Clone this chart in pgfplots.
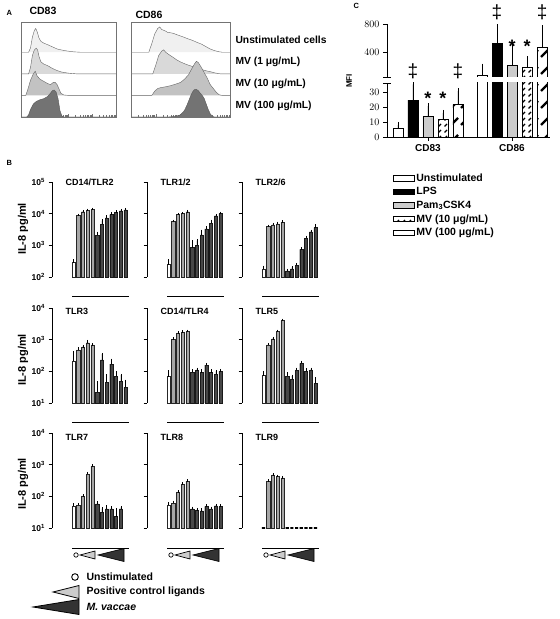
\documentclass[border=0pt]{standalone}
\usepackage{pgfplots}
\pgfplotsset{compat=1.18}
\usepackage{fontspec}
\setmainfont{Liberation Sans}
\usetikzlibrary{patterns}
\pgfdeclarepatternformonly{mvten}{\pgfqpoint{-1pt}{-1pt}}{\pgfqpoint{7pt}{7pt}}{\pgfqpoint{6pt}{6pt}}{%
 \pgfsetlinewidth{1.1pt}\pgfpathmoveto{\pgfqpoint{0.5pt}{0.5pt}}\pgfpathlineto{\pgfqpoint{3pt}{3pt}}\pgfusepath{stroke}}
\pgfdeclarepatternformonly{mvhun}{\pgfqpoint{-1pt}{-1pt}}{\pgfqpoint{11pt}{19pt}}{\pgfqpoint{10pt}{17pt}}{%
 \pgfsetlinewidth{2.2pt}\pgfpathmoveto{\pgfqpoint{1pt}{1pt}}\pgfpathlineto{\pgfqpoint{8pt}{8pt}}\pgfusepath{stroke}}
\newcommand{\fs}[1]{\bfseries\fontsize{#1}{#1}\selectfont}
\newcommand{\dd}{\fontsize{19}{19}\selectfont}
\pgfplotsset{
  bpanel/.style={scale only axis, anchor=south west, width=75.9pt, height=95pt,
    xmin=-3.545, xmax=12.5, axis x line=none, axis y line*=left, yminorticks=false, tick align=outside,
    major tick length=3.5pt, axis line style={line width=0.8pt}, every tick/.style={line width=0.8pt, black},
    ybar, bar width=3.2pt, clip=false, yticklabel style={font=\fs{8.5}}},
  rowone/.style={ymin=100, ymax=100000, ytick={100,1000,10000,100000}},
  rowtwo/.style={ymin=10, ymax=10000, ytick={10,100,1000,10000}},
  labone/.style={yticklabels={10\textsuperscript{2},10\textsuperscript{3},10\textsuperscript{4},10\textsuperscript{5}}},
  labtwo/.style={yticklabels={10\textsuperscript{1},10\textsuperscript{2},10\textsuperscript{3},10\textsuperscript{4}}},
  nolabels/.style={yticklabels={}},
  ebars/.style={error bars/y dir=plus, error bars/y explicit, error bars/error bar style={line width=0.45pt, black},
    error bars/error mark options={line width=0.45pt, mark size=1.3pt, black}},
  wbar/.style={fill=white, draw=black!85, line width=0.45pt, bar shift=0pt, ebars},
  lbar/.style={fill=black!35, draw=black!85, line width=0.45pt, bar shift=0pt, ebars},
  dbar/.style={fill=black!72, draw=black!90, line width=0.45pt, bar shift=0pt, ebars},
  cbar/.style={draw=black, line width=0.7pt, bar shift=0pt, error bars/y dir=plus, error bars/y explicit,
    error bars/error bar style={line width=0.7pt, black}, error bars/error mark options={line width=0.7pt, mark size=3pt, black},
    legend image code/.code={\draw[##1] (0pt,-2.6pt) rectangle (21pt,2.6pt);}},
  cpanel/.style={scale only axis, anchor=south west, width=163pt, xmin=-0.73, xmax=10.13, ybar, bar width=10pt,
    clip mode=individual, tick align=outside, major tick length=4pt, axis line style={line width=0.9pt},
    every tick/.style={line width=0.9pt, black}, ticklabel style={font=\fs{10}}},
  hpanel/.style={scale only axis, anchor=south west, height=95pt, xmin=0, xmax=100, ymin=0, ymax=4.4,
    ytick=\empty, xtick={25,50,75}, xticklabels={}, xtick pos=left, tick align=inside,
    minor xtick={7.5,11.9,15.1,17.5,19.5,21.1,22.6,23.9,32.5,36.9,40.1,42.5,44.5,46.1,47.6,48.9,57.5,61.9,65.1,67.5,69.5,71.1,72.6,73.9,82.5,86.9,90.1,92.5,94.5,96.1,97.6,98.9},
    major tick length=2.5pt, minor tick length=1.5pt, axis line style={black!55, line width=0.5pt},
    every tick/.style={black!55, line width=0.4pt}},
  hone/.style={fill=black!6, draw=black!60, line width=0.4pt},
  htwo/.style={fill=black!15, draw=black!60, line width=0.4pt},
  hthree/.style={fill=black!24, draw=black!60, line width=0.4pt},
  hfour/.style={fill=black!55, draw=black!65, line width=0.4pt},
}
\begin{document}
\begin{tikzpicture}[x=1pt,y=1pt]
\useasboundingbox (0,0) rectangle (560,619);
% ---------------- Panel A ----------------
\node[anchor=west, font=\fs{7.5}] at (3,606) {A};
\node[anchor=west, font=\fs{10.5}] at (26,608) {CD83};
\node[anchor=west, font=\fs{10.5}] at (132,604) {CD86};
\begin{axis}[hpanel, at={(21pt,502pt)}, width=95pt]
\addplot[hone] coordinates {(0,3)(8,3)(10,3.2)(12,3.7)(14,4.0)(15.5,4.1)(17,3.95)(19,3.65)(21,3.5)(24,3.42)(28,3.35)(33,3.25)(38,3.15)(43,3.1)(48,3.06)(55,3.02)(62,3)(100,3)};
\addplot[htwo] coordinates {(0,2)(8,2)(10,2.3)(12,2.85)(14,3.1)(16,3.19)(17.5,3.1)(19,2.8)(21,2.55)(24,2.45)(28,2.38)(33,2.25)(38,2.15)(43,2.08)(50,2.03)(58,2)(100,2)};
\addplot[hthree] coordinates {(0,1)(5,1)(7,1.25)(10,1.7)(13,2.0)(15,2.12)(17,1.9)(20,1.75)(24,1.65)(28,1.55)(31,1.5)(34,1.6)(36,1.6)(38,1.5)(40,1.3)(42,1.1)(45,1.02)(50,1)(100,1)};
\addplot[hfour] coordinates {(0,0)(6,0)(8,0.1)(10,0.35)(13,0.6)(16,0.72)(20,0.8)(24,0.85)(28,0.95)(31,1.1)(33,1.22)(35,1.25)(37,1.15)(39,0.85)(41,0.3)(43,0.05)(45,0)(100,0)};
\end{axis}
\begin{axis}[hpanel, at={(131pt,502pt)}, width=99pt]
\addplot[hone] coordinates {(0,3)(18,3)(21,3.4)(24,3.85)(27,4.1)(29,4.17)(31,4.05)(34,4.0)(37,3.92)(40,3.9)(43,3.87)(47,3.8)(52,3.72)(57,3.63)(62,3.55)(67,3.45)(71,3.38)(76,3.25)(80,3.15)(84,3.08)(88,3.03)(92,3)(100,3)};
\addplot[htwo] coordinates {(0,2)(22,2)(25,2.4)(28,2.85)(31,3.05)(33,3.11)(35,3.0)(38,2.9)(42,2.78)(46,2.65)(50,2.55)(55,2.45)(60,2.37)(65,2.3)(70,2.22)(75,2.15)(80,2.1)(85,2.04)(90,2)(100,2)};
\addplot[hthree] coordinates {(0,1)(21,1)(24,1.2)(27,1.32)(30,1.36)(35,1.4)(40,1.45)(45,1.52)(50,1.6)(54,1.75)(58,1.95)(61,2.2)(64,2.45)(66,2.58)(68,2.52)(71,2.3)(74,2.05)(77,1.8)(80,1.5)(83,1.33)(86,1.15)(89,1.03)(92,1)(100,1)};
\addplot[hfour] coordinates {(0,0)(38,0)(45,0.03)(50,0.1)(54,0.3)(57,0.6)(60,0.95)(62,1.15)(64,1.27)(66,1.28)(68,1.22)(70,1.1)(72,1.0)(74,0.85)(76,0.6)(78,0.35)(80,0.15)(82,0.04)(84,0)(100,0)};
\end{axis}
\node[anchor=west, font=\fs{10.3}] at (232,579) {Unstimulated cells};
\node[anchor=west, font=\fs{10.3}] at (232,557) {MV (1 μg/mL)};
\node[anchor=west, font=\fs{10.3}] at (232,535) {MV (10 μg/mL)};
\node[anchor=west, font=\fs{10.3}] at (232,513) {MV (100 μg/mL)};
% ---------------- Panel C ----------------
\node[anchor=west, font=\fs{7.5}] at (350,613) {C};
\node[rotate=90, font=\fs{8}] at (349,538) {MFI};
\begin{axis}[cpanel, at={(387pt,482pt)}, height=54pt, ymin=0, ymax=36, axis y line*=left, axis x line*=bottom,
  xtick={2,7.6}, xticklabels={CD83,CD86}, ytick={0,10,20,30},
  legend style={at={(0.02,-0.62)}, anchor=north west, draw=none, fill=none, font=\fs{10.5}, row sep=2.2pt,
    nodes={inner sep=1.2pt}}, legend cell align=left]
\addplot[cbar, fill=white] coordinates {(0,6) +- (0,2) (5.6,75) +- (0,119)};
\addplot[cbar, fill=black] coordinates {(1,24.5) +- (0,10.5) (6.6,529) +- (0,247)};
\addplot[cbar, fill=black!20] coordinates {(2,13.5) +- (0,7) (7.6,214) +- (0,290)};
\addplot[cbar, fill=white, postaction={pattern=mvten}] coordinates {(3,11.5) +- (0,4.5) (8.6,180) +- (0,124)};
\addplot[cbar, fill=white, postaction={pattern=mvhun}] coordinates {(4,21.5) +- (0,9) (9.6,466) +- (0,277)};
\legend{Unstimulated, LPS, Pam\textsubscript{3}CSK4, MV (10 μg/mL), MV (100 μg/mL)}
\draw[line width=0.9pt] (rel axis cs:0,1) ++(-4pt,0pt) -- ++(8pt,0pt);
\node[font=\dd] at (axis cs:1,44) {‡};
\node[font=\dd] at (axis cs:4,44) {‡};
\node[font=\fs{18}] at (axis cs:2,26) {*};
\node[font=\fs{18}] at (axis cs:3,26) {*};
\end{axis}
\begin{axis}[cpanel, at={(387pt,542pt)}, height=52.7pt, ymin=47, ymax=800, axis y line*=left, axis x line=none,
  ytick={400,800}]
\addplot[cbar, fill=white] coordinates {(5.6,75) +- (0,119)};
\addplot[cbar, fill=black] coordinates {(6.6,529) +- (0,247)};
\addplot[cbar, fill=black!20] coordinates {(7.6,214) +- (0,290)};
\addplot[cbar, fill=white, postaction={pattern=mvten}] coordinates {(8.6,180) +- (0,124)};
\addplot[cbar, fill=white, postaction={pattern=mvhun}] coordinates {(9.6,466) +- (0,277)};
\draw[line width=0.9pt] (rel axis cs:0,0) ++(-4pt,0pt) -- ++(8pt,0pt);
\node[font=\dd] at (axis cs:6.6,975) {‡};
\node[font=\dd] at (axis cs:9.6,975) {‡};
\node[font=\fs{18}] at (axis cs:7.6,480) {*};
\node[font=\fs{18}] at (axis cs:8.6,480) {*};
\end{axis}
% ---------------- Panel B ----------------
\node[anchor=west, font=\fs{7.5}] at (3,456) {B};
% row 1
\begin{axis}[ymode=log, log origin=infty, bpanel, rowone, labone, at={(52pt,342pt)}]
\addplot[wbar] coordinates {(1,285) +- (0,40)};
\addplot[lbar] coordinates {(2,8700) +- (0,500) (3,11500) +- (0,500) (4,12700) +- (0,500) (5,13500) +- (0,500)};
\addplot[dbar] coordinates {(6,2100) +- (0,350) (7,4700) +- (0,1300) (8,7400) +- (0,700) (9,9300) +- (0,700) (10,11000) +- (0,700) (11,12300) +- (0,700) (12,13200) +- (0,700)};
\node[anchor=west, xshift=10pt, font=\fs{9}] at (rel axis cs:0,1) {CD14/TLR2};
\end{axis}
\begin{axis}[ymode=log, log origin=infty, bpanel, rowone, nolabels, at={(147pt,342pt)}]
\addplot[wbar] coordinates {(1,245) +- (0,80)};
\addplot[lbar] coordinates {(2,5600) +- (0,300) (3,9300) +- (0,400) (4,10000) +- (0,400) (5,11500) +- (0,400)};
\addplot[dbar] coordinates {(6,850) +- (0,450) (7,1000) +- (0,400) (8,2150) +- (0,700) (9,3300) +- (0,400) (10,5000) +- (0,900) (11,8500) +- (0,500) (12,10000) +- (0,500)};
\node[anchor=west, xshift=10pt, font=\fs{9}] at (rel axis cs:0,1) {TLR1/2};
\end{axis}
\begin{axis}[ymode=log, log origin=infty, bpanel, rowone, nolabels, at={(242pt,342pt)}]
\addplot[wbar] coordinates {(1,178) +- (0,30)};
\addplot[lbar] coordinates {(2,3900) +- (0,200) (3,4450) +- (0,200) (4,4800) +- (0,300) (5,5400) +- (0,300)};
\addplot[dbar] coordinates {(6,156) +- (0,10) (7,180) +- (0,20) (8,235) +- (0,20) (9,740) +- (0,60) (10,1700) +- (0,150) (11,2650) +- (0,200) (12,3600) +- (0,600)};
\node[anchor=west, xshift=10pt, font=\fs{9}] at (rel axis cs:0,1) {TLR2/6};
\end{axis}
% row 2
\begin{axis}[ymode=log, log origin=infty, bpanel, rowtwo, labtwo, at={(52pt,216pt)}]
\addplot[wbar] coordinates {(1,210) +- (0,190)};
\addplot[lbar] coordinates {(2,480) +- (0,40) (3,580) +- (0,40) (4,800) +- (0,100) (5,680) +- (0,30)};
\addplot[dbar] coordinates {(6,22) +- (0,22) (7,230) +- (0,120) (8,46) +- (0,28) (9,170) +- (0,60) (10,71) +- (0,20) (11,49) +- (0,27) (12,31) +- (0,19)};
\node[anchor=west, xshift=10pt, yshift=-3pt, font=\fs{9}] at (rel axis cs:0,1) {TLR3};
\end{axis}
\begin{axis}[ymode=log, log origin=infty, bpanel, rowtwo, nolabels, at={(147pt,216pt)}]
\addplot[wbar] coordinates {(1,68) +- (0,32)};
\addplot[lbar] coordinates {(2,1020) +- (0,50) (3,1580) +- (0,100) (4,1700) +- (0,100) (5,1800) +- (0,100)};
\addplot[dbar] coordinates {(6,95) +- (0,10) (7,105) +- (0,15) (8,91) +- (0,15) (9,158) +- (0,10) (10,91) +- (0,15) (11,80) +- (0,20) (12,100) +- (0,8)};
\node[anchor=west, xshift=10pt, yshift=-3pt, font=\fs{9}] at (rel axis cs:0,1) {CD14/TLR4};
\end{axis}
\begin{axis}[ymode=log, log origin=infty, bpanel, rowtwo, nolabels, at={(242pt,216pt)}]
\addplot[wbar] coordinates {(1,73) +- (0,20)};
\addplot[lbar] coordinates {(2,680) +- (0,40) (3,1050) +- (0,60) (4,1800) +- (0,100) (5,4000) +- (0,200)};
\addplot[dbar] coordinates {(6,71) +- (0,15) (7,56) +- (0,15) (8,110) +- (0,10) (9,178) +- (0,20) (10,102) +- (0,10) (11,110) +- (0,10) (12,42) +- (0,18)};
\node[anchor=west, xshift=10pt, yshift=-3pt, font=\fs{9}] at (rel axis cs:0,1) {TLR5};
\end{axis}
% row 3
\begin{axis}[ymode=log, log origin=infty, bpanel, rowtwo, labtwo, at={(52pt,91pt)}]
\addplot[wbar] coordinates {(1,50) +- (0,5)};
\addplot[lbar] coordinates {(2,52) +- (0,5) (3,100) +- (0,5) (4,500) +- (0,40) (5,900) +- (0,50)};
\addplot[dbar] coordinates {(6,58) +- (0,5) (7,31) +- (0,10) (8,40) +- (0,8) (9,40) +- (0,5) (10,23) +- (0,15) (11,40) +- (0,5)};
\node[anchor=west, xshift=10pt, yshift=-4pt, font=\fs{9}] at (rel axis cs:0,1) {TLR7};
\end{axis}
\begin{axis}[ymode=log, log origin=infty, bpanel, rowtwo, nolabels, at={(147pt,91pt)}]
\addplot[wbar] coordinates {(1,54) +- (0,5)};
\addplot[lbar] coordinates {(2,61) +- (0,5) (3,134) +- (0,8) (4,236) +- (0,15) (5,300) +- (0,15)};
\addplot[dbar] coordinates {(6,40) +- (0,3) (7,36) +- (0,3) (8,35) +- (0,3) (9,48) +- (0,3) (10,40) +- (0,3) (11,50) +- (0,3) (12,48) +- (0,3)};
\node[anchor=west, xshift=10pt, yshift=-4pt, font=\fs{9}] at (rel axis cs:0,1) {TLR8};
\end{axis}
\begin{axis}[ymode=log, log origin=infty, bpanel, rowtwo, nolabels, at={(242pt,91pt)}]
\addplot[fill=white, draw=black, line width=1.6pt, bar shift=0pt] coordinates {(1,10)};
\addplot[lbar] coordinates {(2,300) +- (0,20) (3,470) +- (0,20) (4,420) +- (0,20) (5,380) +- (0,20)};
\addplot[fill=black, draw=black, line width=1.6pt, bar shift=0pt] coordinates {(6,10) (7,10) (8,10) (9,10) (10,10) (11,10) (12,10)};
\node[anchor=west, xshift=10pt, yshift=-4pt, font=\fs{9}] at (rel axis cs:0,1) {TLR9};
\end{axis}
% y labels
\node[rotate=90, font=\fs{11}] at (23,390) {IL-8 pg/ml};
\node[rotate=90, font=\fs{11}] at (23,259) {IL-8 pg/ml};
\node[rotate=90, font=\fs{11}] at (23,135) {IL-8 pg/ml};
% baselines under panels
\foreach \c in {52,147,242} {
  \draw[line width=0.8pt] (\c+20,323) -- (\c+77,323);
  \draw[line width=0.8pt] (\c+20,197) -- (\c+77,197);
  \draw[line width=0.8pt] (\c+20,71) -- (\c+77,71);
  \draw[line width=0.7pt, fill=white] (\c+24,64) circle (2.2);
  \draw[line width=0.7pt, fill=black!20] (\c+28,64) -- (\c+43,68) -- (\c+43,60) -- cycle;
  \draw[line width=0.7pt, fill=black!80] (\c+46,64) -- (\c+72,70.5) -- (\c+72,57.5) -- cycle;
}
% bottom legend
\draw[line width=0.9pt, fill=white] (75,42) circle (3.3);
\draw[line width=0.8pt, fill=black!20] (53,27) -- (79,33.5) -- (79,20.5) -- cycle;
\draw[line width=0.8pt, fill=black!80] (33,12) -- (79,19.5) -- (79,4.5) -- cycle;
\node[anchor=west, font=\fs{10.5}] at (83,42) {Unstimulated};
\node[anchor=west, font=\fs{10.5}] at (83,27) {Positive control ligands};
\node[anchor=west, font=\fs{10.5}\itshape] at (83,12) {M. vaccae};
\end{tikzpicture}
\end{document}
